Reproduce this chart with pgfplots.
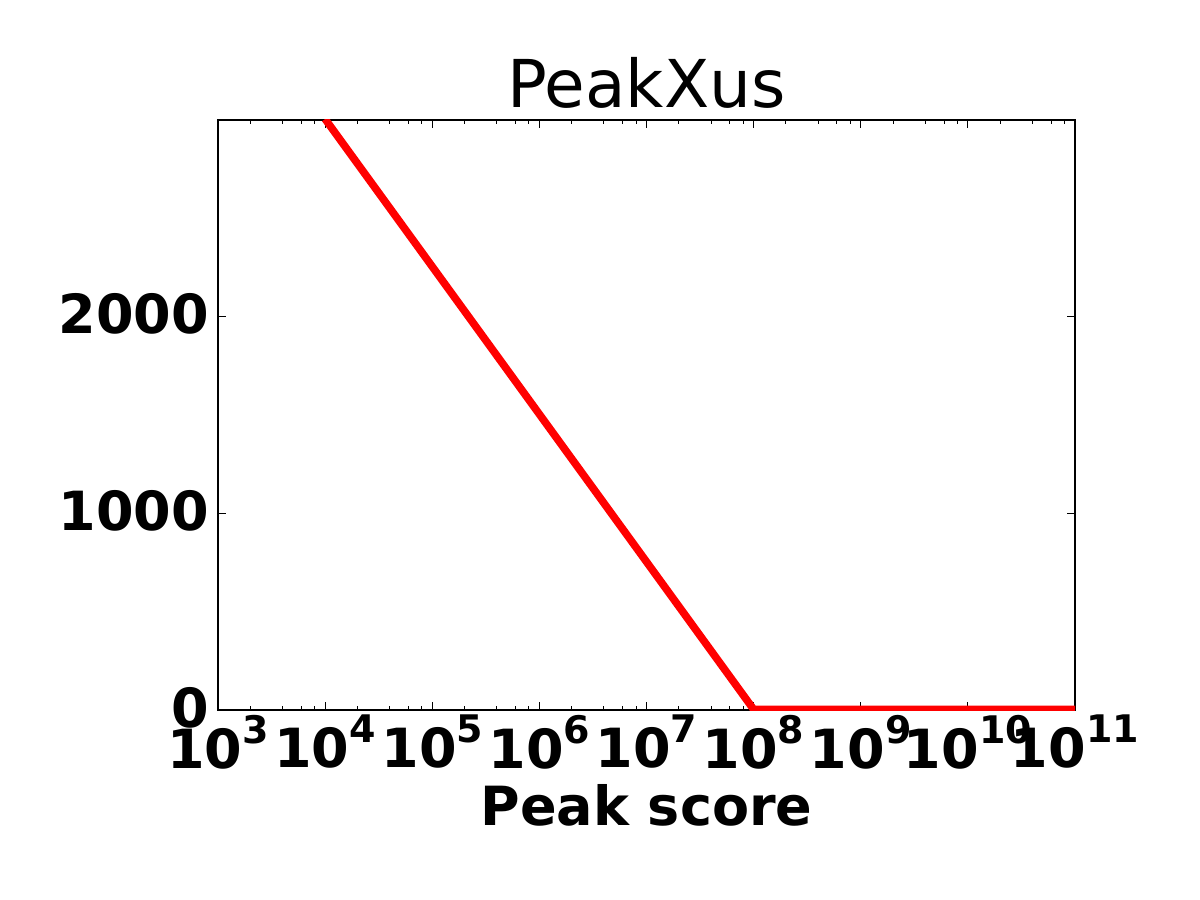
\documentclass[border=0pt]{standalone}
\usepackage{pgfplots}
\pgfplotsset{compat=1.18}
\usepackage{fontspec}
\setmainfont{DejaVu Sans}

% log tick label, set in text like matplotlib's mathtext
\newcommand\tp[1]{10\raisebox{12.5pt}{\fontsize{19}{19}\selectfont #1}}

\begin{document}
\begin{tikzpicture}
\path[use as bounding box] (-109pt,-95pt) rectangle (491pt,355pt);
\begin{axis}[
    at={(0,0)}, anchor=south west,
    scale only axis,
    width=428.5pt, height=295pt,
    xmode=log,
    xmin=1e3, xmax=1e11,
    ymin=0, ymax=2995,
    xtick={1e3,1e4,1e5,1e6,1e7,1e8,1e9,1e10,1e11},
    xticklabels={\tp{3},\tp{4},\tp{5},\tp{6},\tp{7},\tp{8},\tp{9},\tp{10},\tp{11}},
    minor xtick={2e3,4e3,6e3,8e3,2e4,4e4,6e4,8e4,2e5,4e5,6e5,8e5,
                 2e6,4e6,6e6,8e6,2e7,4e7,6e7,8e7,2e8,4e8,6e8,8e8,
                 2e9,4e9,6e9,8e9,2e10,4e10,6e10,8e10},
    ytick={0,1000,2000},
    scaled y ticks=false,
    yticklabel style={/pgf/number format/1000 sep={}},
    /pgf/number format/assume math mode=true,
    tick label style={font=\fontsize{27}{27}\selectfont\bfseries},
    tick align=inside,
    major tick length=4.2pt, minor tick length=2.1pt,
    every tick/.style={black, line width=0.5pt},
    axis line style={line width=1pt},
    xticklabel style={yshift=1pt},
    yticklabel style={xshift=-1pt, yshift=1pt},
    xlabel={Peak score},
    xlabel style={font=\fontsize{27}{27}\selectfont\bfseries, yshift=-1pt},
    title={PeakXus},
    title style={font=\fontsize{33}{33}\selectfont, yshift=-4pt},
]
\addplot[red, line width=3.8pt, no markers] coordinates {
    (1e4, 3000)
    (1e8, 3)
    (1e11, 3)
};
\end{axis}
\end{tikzpicture}
\end{document}
